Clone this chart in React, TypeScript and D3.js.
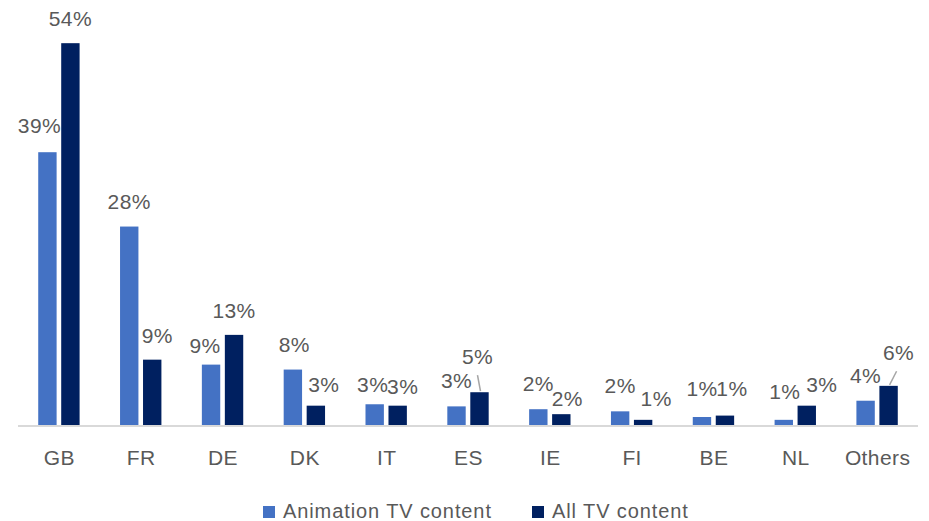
import React from "react";
import * as d3 from "d3";

const categories = ["GB", "FR", "DE", "DK", "IT", "ES", "IE", "FI", "BE", "NL", "Others"];
const animationTV = [38.6, 28.1, 8.6, 7.9, 3.0, 2.7, 2.3, 2.0, 1.2, 0.8, 3.5];
const allTV = [54.0, 9.3, 12.8, 2.8, 2.8, 4.7, 1.6, 0.8, 1.4, 2.8, 5.6];
const seriesNames = ["Animation TV content", "All TV content"];
const seriesColors = ["#4472C4", "#002060"];

// label placement nudges (Excel-style manual label positions)
const animLabelDx = [-8, 0, -6, 1.5, -2, 0, 0, 0, 0, 1, 0];
const animLabelGap = [19, 17.7, 12, 18, 12, 18, 18, 18, 20.6, 21, 18];
const allLabelDx = [0, 5, 0, 8, 5, -2, 6, 13, 7, 15, 10];
const allLabelGap = [17, 17, 17, 14, 12, 28, 8, 14, 20, 13.6, 25.6];
const allLeader = [false, false, false, false, false, true, false, false, false, false, true];

const W = 929;
const H = 521;
const baseY = 425.5;

export default function App() {
  const x0 = d3.scaleBand<string>().domain(categories).range([18, 918]).paddingInner(0).paddingOuter(0);
  const x1 = d3
    .scaleBand<string>()
    .domain(seriesNames)
    .range([0, x0.bandwidth()])
    .paddingInner(0.2)
    .paddingOuter(0.88);
  const y = d3.scaleLinear().domain([0, 60]).range([baseY, baseY - 60 * 7.08]);
  const fmt = (v: number) => d3.format(".0f")(v) + "%";
  const font = "'Liberation Sans', Arial, sans-serif";
  const textColor = "#595959";

  const series = [
    { name: seriesNames[0], values: animationTV, dx: animLabelDx, gap: animLabelGap, leader: categories.map(() => false) },
    { name: seriesNames[1], values: allTV, dx: allLabelDx, gap: allLabelGap, leader: allLeader },
  ];

  return (
    <svg
      width={W}
      height={H}
      style={{ position: "absolute", left: 0, top: 0, background: "#fff" }}
      fontFamily={font}
    >
      <rect x={0} y={0} width={W} height={H} fill="#fff" />
      {series.map((s, si) => (
        <g key={s.name}>
          {categories.map((c, i) => {
            const bx = (x0(c) as number) + (x1(s.name) as number);
            const bw = x1.bandwidth();
            const top = y(s.values[i]);
            return (
              <rect
                key={c}
                x={bx}
                y={top}
                width={bw}
                height={baseY - top}
                fill={seriesColors[si]}
              />
            );
          })}
        </g>
      ))}
      <line x1={18} x2={918} y1={baseY + 0.5} y2={baseY + 0.5} stroke="#d9d9d9" strokeWidth={2} />
      {series.map((s) => (
        <g key={s.name + "-labels"}>
          {categories.map((c, i) => {
            const cx = (x0(c) as number) + (x1(s.name) as number) + x1.bandwidth() / 2;
            const top = y(s.values[i]);
            const lx = cx + s.dx[i];
            const ly = top - s.gap[i];
            return (
              <g key={c}>
                <text x={lx} y={ly} textAnchor="middle" fontSize={21} letterSpacing={0.4} fill={textColor}>
                  {fmt(s.values[i])}
                </text>
                {s.leader[i] && (
                  <line
                    x1={lx - (s.dx[i] > 2 ? 2 : 0)}
                    y1={ly + 11}
                    x2={cx + 1}
                    y2={top - 1}
                    stroke="#a6a6a6"
                    strokeWidth={1.5}
                  />
                )}
              </g>
            );
          })}
        </g>
      ))}
      {categories.map((c) => (
        <text
          key={c}
          x={(x0(c) as number) + x0.bandwidth() / 2 + 0.5}
          y={465}
          textAnchor="middle"
          fontSize={21}
          letterSpacing={0.4}
          fill={textColor}
        >
          {c}
        </text>
      ))}
      {seriesNames.map((n, i) => {
        const lx = [263, 532][i];
        return (
          <g key={n}>
            <rect x={lx} y={506} width={12} height={12} fill={seriesColors[i]} />
            <text x={lx + 20} y={518} fontSize={20} fill={textColor} letterSpacing={0.9}>
              {n}
            </text>
          </g>
        );
      })}
    </svg>
  );
}
